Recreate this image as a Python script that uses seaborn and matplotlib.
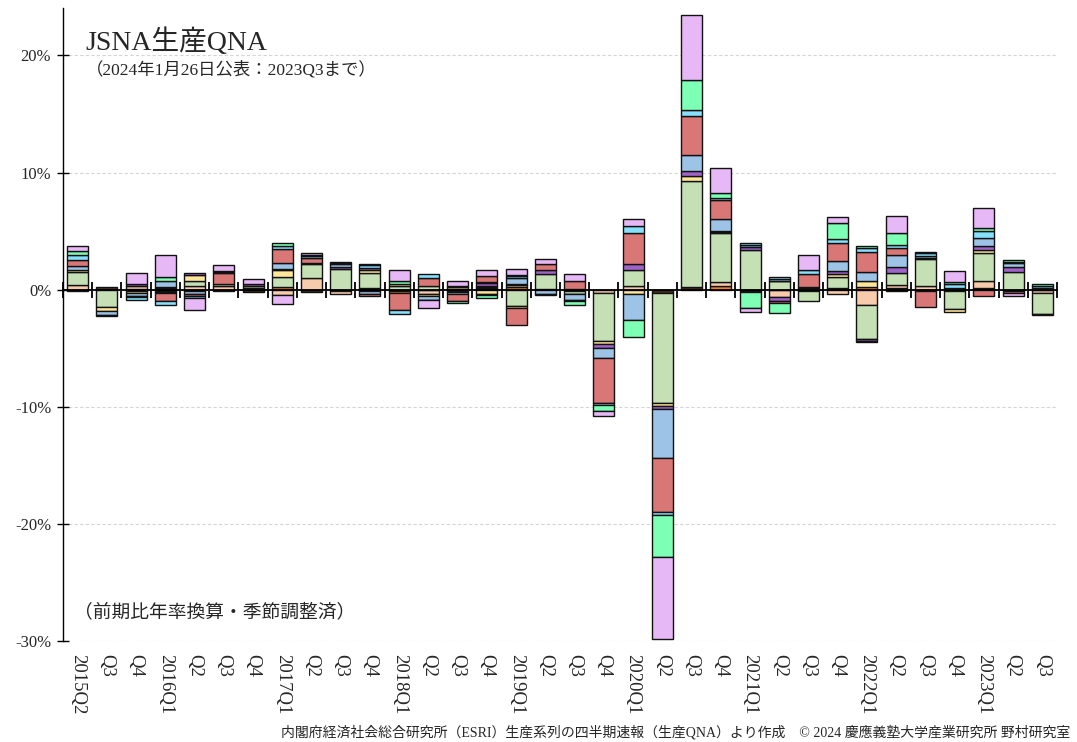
import numpy as np
import matplotlib
matplotlib.use("Agg")
import matplotlib.pyplot as plt
import matplotlib.transforms as mtransforms
import seaborn as sns

# ---------------- data ----------------
quarters = ["2015Q2", "Q3", "Q4",
            "2016Q1", "Q2", "Q3", "Q4",
            "2017Q1", "Q2", "Q3", "Q4",
            "2018Q1", "Q2", "Q3", "Q4",
            "2019Q1", "Q2", "Q3", "Q4",
            "2020Q1", "Q2", "Q3", "Q4",
            "2021Q1", "Q2", "Q3", "Q4",
            "2022Q1", "Q2", "Q3", "Q4",
            "2023Q1", "Q2", "Q3"]

# contributions (percentage points), stacked in this order from zero outward
agri = [-0.1, 0.2, 0.05, 0.1, -0.1, -0.1, -0.2, 0, -0.2, 0, 0.1, -0.1, 0, 0, 0.1, 0, 0.05,
        0.05, 0, 0, -0.3, 0.2, 0, -0.1, 0, -0.15, 0.1, 0, -0.1, -0.1, -0.15, 0.05, -0.1, 0]
mining = [0, 0, 0, 0, 0, 0, 0, 0.2, 0, -0.1, 0, -0.15, 0, 0.05, -0.05, 0.2, 0,
          0, 0, 0, 0, 0, 0.3, 0, 0, 0, 0, 0.2, 0.15, 0, 0, 0.05, 0, 0]
utilities = [0.4, 0, 0.25, 0.15, 0.35, 0.35, 0.15, -0.45, 1.0, -0.3, -0.15, 0, -0.4, -0.1, 0.1, 0.2, 0,
             -0.15, -0.3, 0.3, 0, 0, 0.35, -0.1, -0.65, 0.15, -0.35, -1.3, 0.25, 0.3, 0, 0.6, 0, -0.3]
manufacturing = [1.15, -1.45, -0.1, -0.1, 0.35, 0.15, 0.2, 0.9, 1.2, 1.8, 1.3, 0.35, 0.35, -0.1, 0.1, -1.4, 1.3,
                 -0.2, -4.1, 1.35, -9.4, 9.1, 4.2, 3.4, 0.7, -0.85, 1.0, -2.9, 1.0, 2.3, -1.5, 2.4, 1.5, -1.75]
construction = [0.1, -0.35, -0.2, -0.1, 0.55, 0, 0, 0.6, 0, 0, 0.3, 0.1, -0.15, 0.15, -0.3, -0.2, 0,
                -0.05, -0.2, -0.35, -0.2, 0.4, 0.1, 0, 0.05, 0.1, 0.2, 0.5, 0, 0, -0.25, 0.3, 0, -0.1]
wholesale = [0, 0, 0.2, -0.1, 0.15, 0, 0.1, 0.05, 0.1, 0.15, 0.15, 0, 0, 0.15, 0.25, 0.1, 0.3,
             0, -0.35, 0.5, -0.3, 0.4, 0.1, 0.2, -0.3, 0, 0.3, -0.15, 0.55, 0.1, 0, 0.35, 0.4, 0]
transport = [0.4, -0.35, -0.2, 0.5, -0.3, 0, 0, 0.55, 0, 0.2, -0.2, 0, -0.3, -0.15, 0.1, 0.5, -0.35,
             -0.5, -0.85, -2.25, -4.2, 1.4, 0.95, 0.2, 0.2, 0, 0.85, 0.85, 1.05, 0.2, 0.15, 0.7, 0.35, 0.15]
hospitality = [0.5, 0, -0.15, -0.7, -0.15, 0.9, 0, 1.15, 0.4, 0.15, -0.2, -1.5, 0.65, -0.6, 0.55, -1.45, 0.5,
               0.65, -3.85, 2.7, -4.55, 3.3, 1.65, 0, -0.2, 1.05, 1.5, 1.7, 0.55, -1.35, 0, -0.5, -0.2, 0]
infocomm = [0.4, -0.1, -0.2, -0.3, -0.15, 0.1, 0, 0.3, 0.15, 0, 0.25, -0.35, 0.35, 0, -0.1, 0.2, -0.1,
            -0.05, -0.2, 0.55, -0.3, 0.5, 0.2, 0.15, 0.15, 0.35, 0.4, 0.3, 0.3, 0.2, 0.35, 0.55, 0.1, 0.2]
health = [0.35, 0, 0, 0.35, 0, 0.1, 0, 0.2, 0.1, 0.1, 0.1, 0.25, -0.05, -0.2, -0.3, 0.05, 0,
          -0.35, -0.5, -1.4, -3.6, 2.6, 0.4, -1.35, -0.85, 0, 1.3, 0.15, 1.0, 0.1, 0.15, 0.3, 0.2, 0.15]
other_services = [0.4, 0, 0.95, 1.85, -1.0, 0.5, 0.45, -0.8, 0.2, 0, 0, 0.95, -0.65, 0.35, 0.45, 0.5, 0.5,
                  0.65, -0.45, 0.65, -7.0, 5.55, 2.1, -0.35, 0, 1.35, 0.55, -0.15, 1.4, 0, 0.95, 1.7, -0.2, 0]

series = [agri, mining, utilities, manufacturing, construction, wholesale,
          transport, hospitality, infocomm, health, other_services]
colors = ["#4d3319", "#f5821f", "#f8cbad", "#c5e0b4", "#ffe699", "#a064c8",
          "#9dc3e6", "#d97777", "#88e0ff", "#7dffb6", "#e6b8f5"]

ytick_vals = [-30, -20, -10, 0, 10, 20]
ytick_labels = ["-30%", "-20%", "-10%", "0%", "10%", "20%"]

title = "JSNA生産QNA"
subtitle = "（2024年1月26日公表：2023Q3まで）"
note = "（前期比年率換算・季節調整済）"
source = ("内閣府経済社会総合研究所（ESRI）生産系列の四半期速報（生産QNA）より作成　"
          "© 2024 慶應義塾大学産業研究所 野村研究室")

# ---------------- style ----------------
sns.set_style("white")
fam = ["Liberation Serif", "Noto Sans CJK JP", "DejaVu Sans"]
plt.rcParams["font.family"] = fam
plt.rcParams["axes.unicode_minus"] = False

fig = plt.figure(figsize=(10.77, 7.42), dpi=100)
ax = fig.add_axes([63 / 1077, 101 / 742, (1057 - 63) / 1077, (734 - 101) / 742])

x = np.arange(len(quarters))
pos_base = np.zeros(len(quarters))
neg_base = np.zeros(len(quarters))
for vals, col in zip(series, colors):
    v = np.asarray(vals, dtype=float)
    bottoms = np.where(v >= 0, pos_base, neg_base)
    m = v != 0
    ax.bar(x[m], v[m], bottom=bottoms[m], width=0.72, color=col,
           edgecolor="#111111", linewidth=1.0, zorder=3)
    pos_base += np.where(v > 0, v, 0)
    neg_base += np.where(v < 0, v, 0)

ax.set_xlim(-0.5, len(quarters) - 0.5)
ax.set_ylim(-30, 24.05)

# axes / spines
for s in ["top", "right"]:
    ax.spines[s].set_visible(False)
ax.spines["bottom"].set_position(("data", 0))
ax.spines["bottom"].set_color("black")
ax.spines["bottom"].set_linewidth(1.3)
ax.spines["bottom"].set_zorder(4)
ax.spines["left"].set_color("black")
ax.spines["left"].set_linewidth(1.0)

ax.set_xticks(np.arange(-0.5, len(quarters), 1.0))
ax.set_xticklabels([])
ax.tick_params(axis="x", direction="inout", length=11, width=1.3, color="black", bottom=True)

ax.set_yticks(ytick_vals)
ax.set_yticklabels(ytick_labels, fontsize=12)
ax.tick_params(axis="y", direction="inout", length=9, width=1.0, color="black", left=True, pad=4)

ax.yaxis.grid(True, linestyle=(0, (3, 2)), color="#d5d5d5", linewidth=0.8, zorder=0)
ax.xaxis.grid(False)
ax.set_axisbelow(True)

# category labels at bottom
trans = mtransforms.blended_transform_factory(ax.transData, ax.transAxes)
for xi, lab in zip(x, quarters):
    ax.text(xi, -0.021, lab, transform=trans, rotation=270, ha="center", va="top",
            fontsize=13.5, family=fam)

# texts
fig.text(85 / 1077, 1 - 42 / 742, title, fontsize=20, va="center", ha="left", family=fam)
fig.text(86 / 1077, 1 - 70 / 742, subtitle, fontsize=12.5, va="center", ha="left", family=fam)
fig.text(74 / 1077, 1 - 612 / 742, note, fontsize=13.5, va="center", ha="left", family=fam)
fig.text(1070 / 1077, 1 - 732 / 742, source, fontsize=10, va="center", ha="right", family=fam)

fig.savefig("out.png", dpi=100)
